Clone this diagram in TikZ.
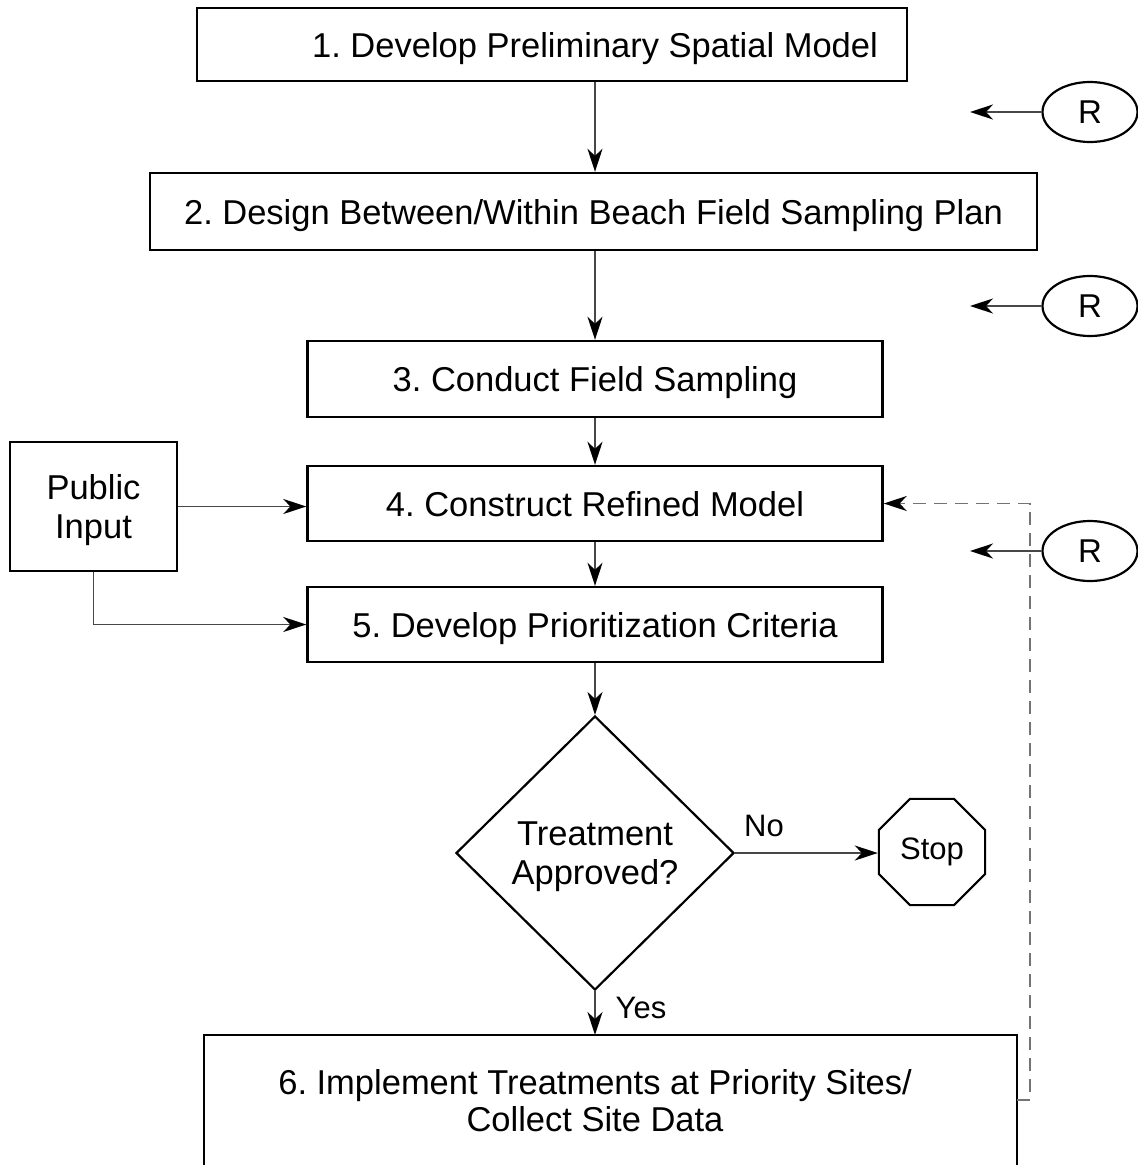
\documentclass[tikz,border=0pt]{standalone}
\usepackage{fontspec}
\setmainfont{Liberation Sans}
\usetikzlibrary{shapes.geometric,arrows.meta}
\frenchspacing
\newcommand{\toppad}{\rule{0pt}{32pt}}
\tikzset{
  box/.style={draw=black, line width=2.4pt, rectangle, inner sep=0pt},
  txt/.style={font=\fontsize{34.5}{39}\selectfont, align=center, inner sep=0pt},
  one/.style={text height=25pt, text depth=0pt},
  small/.style={font=\fontsize{31}{36}\selectfont, inner sep=0pt},
  tip/.style={-{Stealth[length=23pt,width=15pt,inset=7pt,color=black]}},
  arr/.style={draw=black!72, line width=1.7pt, tip},
  dsh/.style={draw=black!55, line width=1.7pt, dash pattern=on 13pt off 8pt, tip},
  rnode/.style={draw=black, line width=2.2pt, ellipse, minimum width=95pt, minimum height=60pt, inner sep=0pt, font=\fontsize{33}{36}\selectfont},
}
\begin{document}
\begin{tikzpicture}[x=1pt,y=-1pt]
\useasboundingbox[fill=white] (0,0) rectangle (1138,1165);
% boxes
\node[box, minimum width=710pt, minimum height=73pt] (b1) at (552,44.5) {};
\node[txt, one] (t1) at (595,45) {1. Develop Preliminary Spatial Model};
\node[box, txt, one, minimum width=887pt, minimum height=77pt] (b2) at (593.5,211.5) {2. Design Between/Within Beach Field Sampling Plan};
\node[box, txt, one, minimum width=575pt, minimum height=76pt] (b3) at (595,379) {3. Conduct Field Sampling};
\node[box, txt, one, minimum width=575pt, minimum height=75pt] (b4) at (595,503.5) {4. Construct Refined Model};
\node[box, txt, one, minimum width=575pt, minimum height=75pt] (b5) at (595,624.5) {5. Develop Prioritization Criteria};
\node[box, txt, minimum width=167pt, minimum height=129pt] (pub) at (93.5,506.5) {\toppad Public\\Input};
\node[draw=black, line width=2.2pt, diamond, aspect=1, minimum width=278pt, minimum height=274pt, inner sep=0pt, txt] (dia) at (595,853) {\toppad Treatment\\Approved?};
\node[draw=black, line width=2.2pt, regular polygon, regular polygon sides=8, minimum size=115pt, inner sep=0pt, small] (stop) at (932,852) {Stop};
% box 6 (open at the bottom)
\draw[line width=2.4pt] (204,1170) -- (204,1035) -- (1017,1035) -- (1017,1170);
\node[txt, font=\fontsize{34.5}{37}\selectfont] (b6) at (595,1101) {6. Implement Treatments at Priority Sites/\\Collect Site Data};
\coordinate (b6top) at (595,1035);
\coordinate (b6r) at (1017,1100);
\coordinate (dc1) at (1030,1100);
% R nodes
\node[rnode] (r1) at (1090,112) {R};
\node[rnode] (r2) at (1090,306) {R};
\node[rnode] (r3) at (1090,551) {R};
\coordinate (r1t) at (970,112);
\coordinate (r2t) at (970,306);
\coordinate (r3t) at (970,551);
% connectors
\draw[arr] (b1.south -| b3) -- (b2.north -| b3);
\draw[arr] (b2.south -| b3) -- (b3.north);
\draw[arr] (b3.south) -- (b4.north);
\draw[arr] (b4.south) -- (b5.north);
\draw[arr] (b5.south) -- (dia.north);
\draw[arr] (pub.east) -- (pub.east -| b4.west);
\draw[arr] (pub.south) |- (b5.west);
\draw[arr] (dia.east) -- (dia.east -| stop.west);
\node[small] (no) at (764,826) {No};
\draw[arr] (dia.south) -- (b6top);
\node[small] (yes) at (641,1008) {Yes};
\draw[dsh] (b6r) -- (dc1) -- (dc1 |- b4.east) -- (b4.east);
\draw[arr] (r1.west) -- (r1t);
\draw[arr] (r2.west) -- (r2t);
\draw[arr] (r3.west) -- (r3t);
\end{tikzpicture}
\end{document}
